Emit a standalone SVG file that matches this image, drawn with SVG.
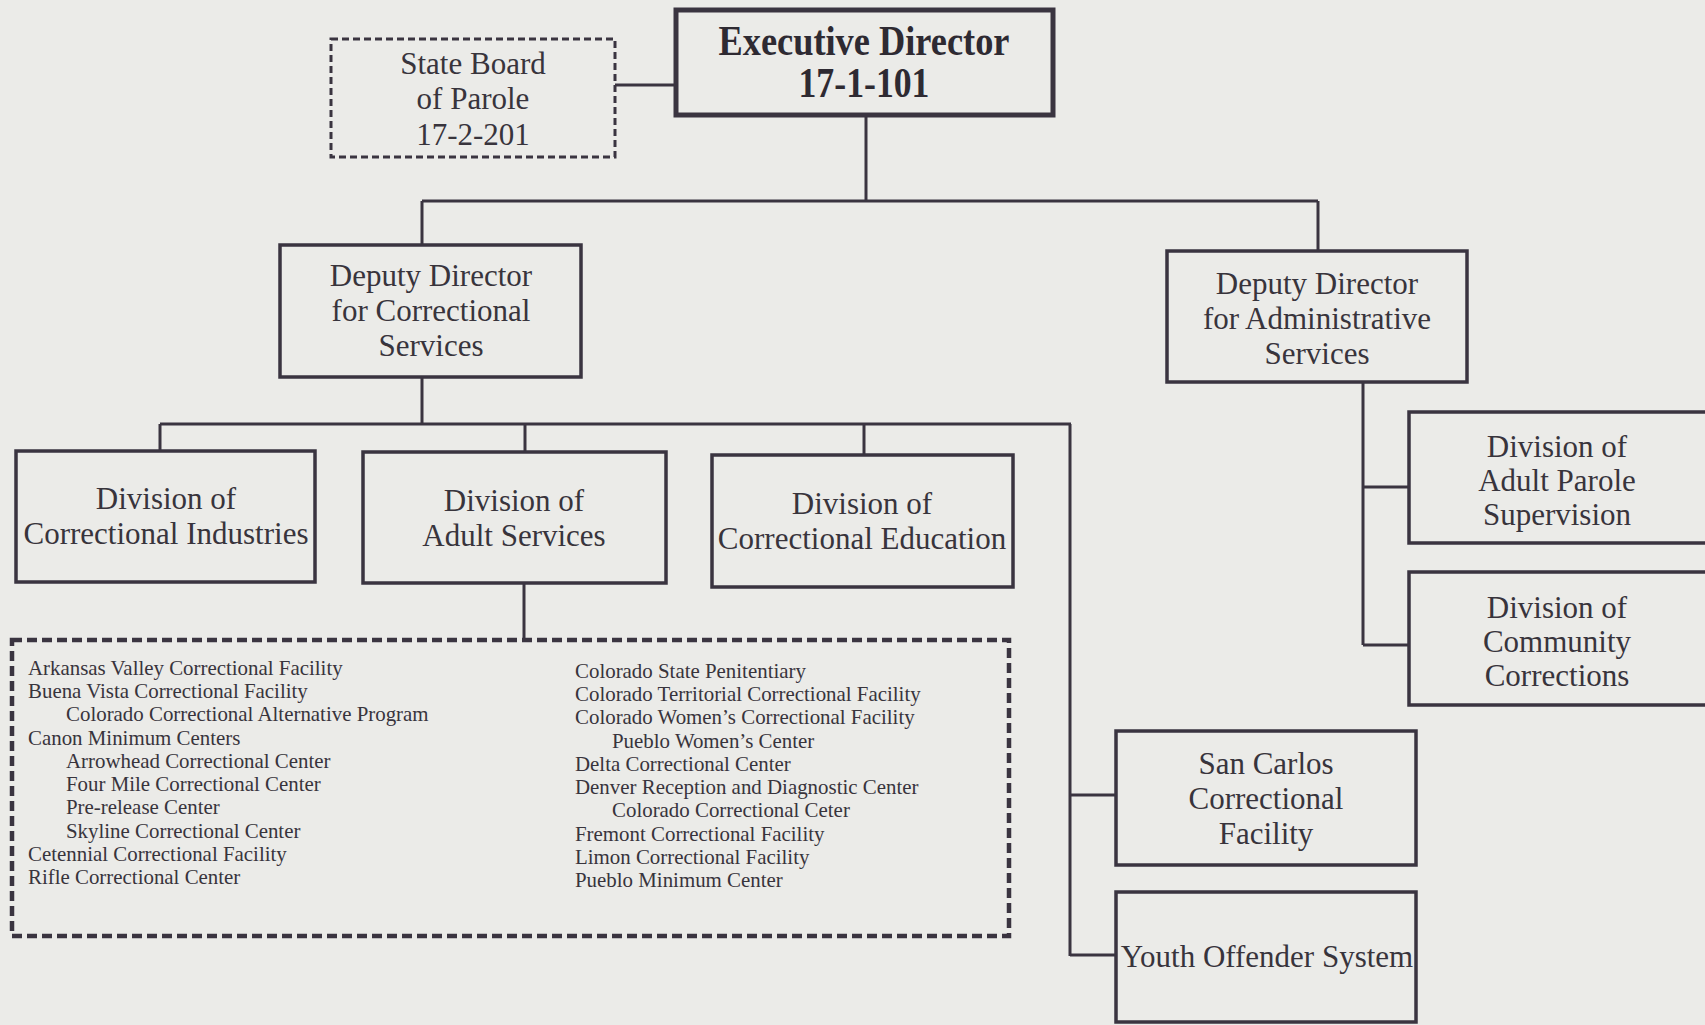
<svg xmlns="http://www.w3.org/2000/svg" width="1705" height="1025" viewBox="0 0 1705 1025">
<defs>
<style>
.bg{fill:#ebebe8}
.box{fill:none;stroke:#3a3440;stroke-width:3.5}
.exec{fill:none;stroke:#3a3440;stroke-width:5}
.dash{fill:none;stroke:#3a3440;stroke-width:3;stroke-dasharray:7 4}
.bigdash{fill:none;stroke:#3a3440;stroke-width:4.5;stroke-dasharray:10 5}
.conn{fill:none;stroke:#3a3440;stroke-width:3}
.t{font-family:"Liberation Serif","Times New Roman",serif;font-size:31px;fill:#38343c;text-anchor:middle}
.tb{font-family:"Liberation Serif","Times New Roman",serif;font-size:42px;font-weight:bold;fill:#2e2a32;text-anchor:middle}
.l{font-family:"Liberation Serif","Times New Roman",serif;font-size:20.9px;fill:#38343c}
</style>
</defs>
<rect class="bg" x="0" y="0" width="1705" height="1025"/>

<g id="connectors">
<line class="conn" x1="615" y1="85" x2="676" y2="85"/>
<line class="conn" x1="866" y1="115" x2="866" y2="201"/>
<line class="conn" x1="422" y1="201" x2="1318" y2="201"/>
<line class="conn" x1="422" y1="201" x2="422" y2="245"/>
<line class="conn" x1="1318" y1="201" x2="1318" y2="251"/>
<line class="conn" x1="422" y1="377" x2="422" y2="424"/>
<line class="conn" x1="160" y1="424" x2="1071" y2="424"/>
<line class="conn" x1="160" y1="424" x2="160" y2="451"/>
<line class="conn" x1="525" y1="424" x2="525" y2="452"/>
<line class="conn" x1="864" y1="424" x2="864" y2="455"/>
<line class="conn" x1="1070" y1="424" x2="1070" y2="956"/>
<line class="conn" x1="1070" y1="795" x2="1116" y2="795"/>
<line class="conn" x1="1070" y1="955" x2="1116" y2="955"/>
<line class="conn" x1="524" y1="583" x2="524" y2="640"/>
<line class="conn" x1="1363" y1="382" x2="1363" y2="645"/>
<line class="conn" x1="1363" y1="487" x2="1409" y2="487"/>
<line class="conn" x1="1363" y1="645" x2="1409" y2="645"/>
</g>

<g id="state-board">
<rect class="dash" x="331" y="39" width="284" height="118"/>
<text class="t" x="473" y="74">State Board</text>
<text class="t" x="473" y="109">of Parole</text>
<text class="t" x="473" y="145">17-2-201</text>
</g>

<g id="executive-director">
<rect class="exec" x="676" y="10" width="377" height="105"/>
<text class="tb" x="864" y="55" textLength="291" lengthAdjust="spacingAndGlyphs">Executive Director</text>
<text class="tb" x="864" y="97" textLength="131" lengthAdjust="spacingAndGlyphs">17-1-101</text>
</g>

<g id="deputy-correctional">
<rect class="box" x="280" y="245" width="301" height="132"/>
<text class="t" x="431" y="286">Deputy Director</text>
<text class="t" x="431" y="321">for Correctional</text>
<text class="t" x="431" y="356">Services</text>
</g>

<g id="deputy-administrative">
<rect class="box" x="1167" y="251" width="300" height="131"/>
<text class="t" x="1317" y="294">Deputy Director</text>
<text class="t" x="1317" y="329">for Administrative</text>
<text class="t" x="1317" y="364">Services</text>
</g>

<g id="div-correctional-industries">
<rect class="box" x="16" y="451" width="299" height="131"/>
<text class="t" x="166" y="509">Division of</text>
<text class="t" x="166" y="544">Correctional Industries</text>
</g>

<g id="div-adult-services">
<rect class="box" x="363" y="452" width="303" height="131"/>
<text class="t" x="514" y="511">Division of</text>
<text class="t" x="514" y="546">Adult Services</text>
</g>

<g id="div-correctional-education">
<rect class="box" x="712" y="455" width="301" height="132"/>
<text class="t" x="862" y="514">Division of</text>
<text class="t" x="862" y="549">Correctional Education</text>
</g>

<g id="div-adult-parole">
<rect class="box" x="1409" y="412" width="310" height="131"/>
<text class="t" x="1557" y="457">Division of</text>
<text class="t" x="1557" y="491">Adult Parole</text>
<text class="t" x="1557" y="525">Supervision</text>
</g>

<g id="div-community-corrections">
<rect class="box" x="1409" y="572" width="310" height="133"/>
<text class="t" x="1557" y="618">Division of</text>
<text class="t" x="1557" y="652">Community</text>
<text class="t" x="1557" y="686">Corrections</text>
</g>

<g id="san-carlos">
<rect class="box" x="1116" y="731" width="300" height="134"/>
<text class="t" x="1266" y="774">San Carlos</text>
<text class="t" x="1266" y="809">Correctional</text>
<text class="t" x="1266" y="844">Facility</text>
</g>

<g id="youth-offender">
<rect class="box" x="1116" y="892" width="300" height="130"/>
<text class="t" x="1267" y="967">Youth Offender System</text>
</g>

<g id="facilities">
<rect class="bigdash" x="12" y="640" width="997" height="296"/>
<text class="l" x="28" y="675">Arkansas Valley Correctional Facility</text>
<text class="l" x="28" y="698">Buena Vista Correctional Facility</text>
<text class="l" x="66" y="721">Colorado Correctional Alternative Program</text>
<text class="l" x="28" y="745">Canon Minimum Centers</text>
<text class="l" x="66" y="768">Arrowhead Correctional Center</text>
<text class="l" x="66" y="791">Four Mile Correctional Center</text>
<text class="l" x="66" y="814">Pre-release Center</text>
<text class="l" x="66" y="838">Skyline Correctional Center</text>
<text class="l" x="28" y="861">Cetennial Correctional Facility</text>
<text class="l" x="28" y="884">Rifle Correctional Center</text>
<text class="l" x="575" y="678">Colorado State Penitentiary</text>
<text class="l" x="575" y="701">Colorado Territorial Correctional Facility</text>
<text class="l" x="575" y="724">Colorado Women’s Correctional Facility</text>
<text class="l" x="612" y="748">Pueblo Women’s Center</text>
<text class="l" x="575" y="771">Delta Correctional Center</text>
<text class="l" x="575" y="794">Denver Reception and Diagnostic Center</text>
<text class="l" x="612" y="817">Colorado Correctional Ceter</text>
<text class="l" x="575" y="841">Fremont Correctional Facility</text>
<text class="l" x="575" y="864">Limon Correctional Facility</text>
<text class="l" x="575" y="887">Pueblo Minimum Center</text>
</g>
</svg>
